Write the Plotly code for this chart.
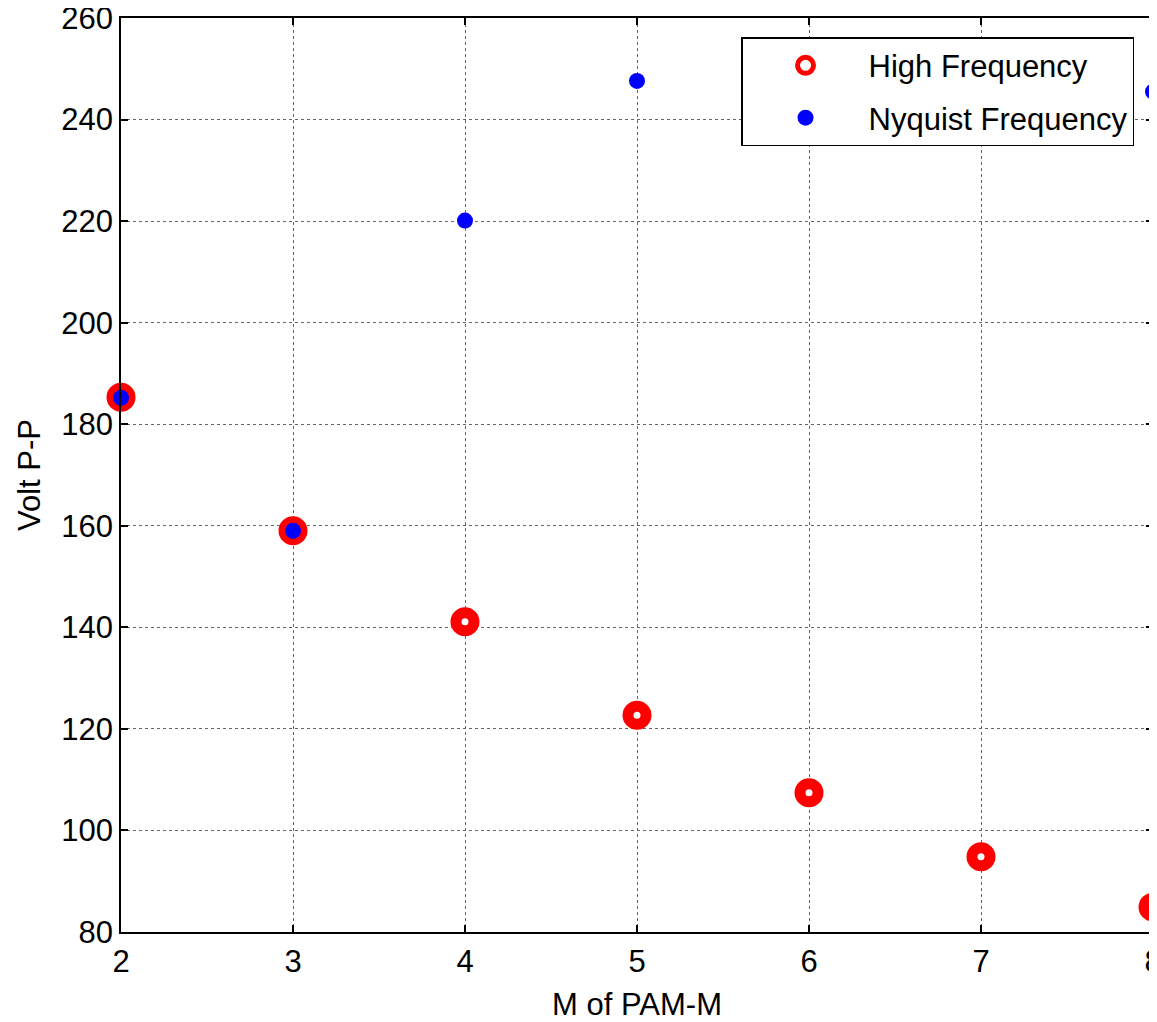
import plotly.graph_objects as go

m_values = [2, 3, 4, 5, 6, 7, 8]
high_freq = [185.3, 159.0, 141.1, 122.7, 107.4, 94.8, 84.9]
nyq_m = [2, 3, 4, 5, 6, 7, 8]
nyquist_freq = [185.2, 159.0, 220.1, 247.6, 249.0, 247.0, 245.5]

x_ticks = [2, 3, 4, 5, 6, 7, 8]
y_ticks = [80, 100, 120, 140, 160, 180, 200, 220, 240, 260]

FONT = "Liberation Sans, Arial, sans-serif"

fig = go.Figure()
fig.add_trace(go.Scatter(
    x=m_values, y=high_freq, mode="markers", name="High Frequency",
    legendgroup="a",
    marker=dict(symbol="circle", size=18, color="white",
                line=dict(color="#ff0000", width=11)),
    cliponaxis=False,
))
fig.add_trace(go.Scatter(
    x=nyq_m, y=nyquist_freq, mode="markers", name="Nyquist Frequency",
    legendgroup="b",
    marker=dict(symbol="circle", size=16, color="#0000ff",
                line=dict(color="#0000ff", width=0)),
    cliponaxis=False,
))

axis_common = dict(
    showline=True, linecolor="black", linewidth=1.5, mirror="ticks",
    ticks="inside", ticklen=7, tickcolor="black", tickwidth=1.5,
    showgrid=True, gridcolor="#666666", griddash="dot", gridwidth=1,
    zeroline=False, automargin=False, ticklabeloverflow="allow",
    tickfont=dict(family=FONT, size=31, color="black"),
)

fig.update_xaxes(
    range=[2, 8], tickvals=x_ticks, ticktext=[str(v) for v in x_ticks],
    title=dict(text="M of PAM-M", font=dict(family=FONT, size=31, color="black"), standoff=18),
    ticklabelstandoff=1,
    **axis_common,
)
fig.update_yaxes(
    range=[80, 260], tickvals=y_ticks, ticktext=[str(v) for v in y_ticks],
    title=dict(text="Volt P-P", font=dict(family=FONT, size=31, color="black"), standoff=11),
    ticklabelstandoff=0,
    **axis_common,
)

# the page body adds an 8px offset; margins compensate so the plot area sits where the reference has it
fig.update_layout(
    width=1149, height=1014,
    margin=dict(l=113, r=4, t=10, b=90, autoexpand=False),
    paper_bgcolor="white", plot_bgcolor="white",
    font=dict(family=FONT, size=31, color="black"),
    showlegend=True,
    legend=dict(
        x=0.6008, y=0.979, xanchor="left", yanchor="top",
        bgcolor="white", bordercolor="black", borderwidth=1.5,
        font=dict(family=FONT, size=31, color="black"),
        itemwidth=116, tracegroupgap=9, itemsizing="trace",
    ),
)

fig.write_html("out.html")
